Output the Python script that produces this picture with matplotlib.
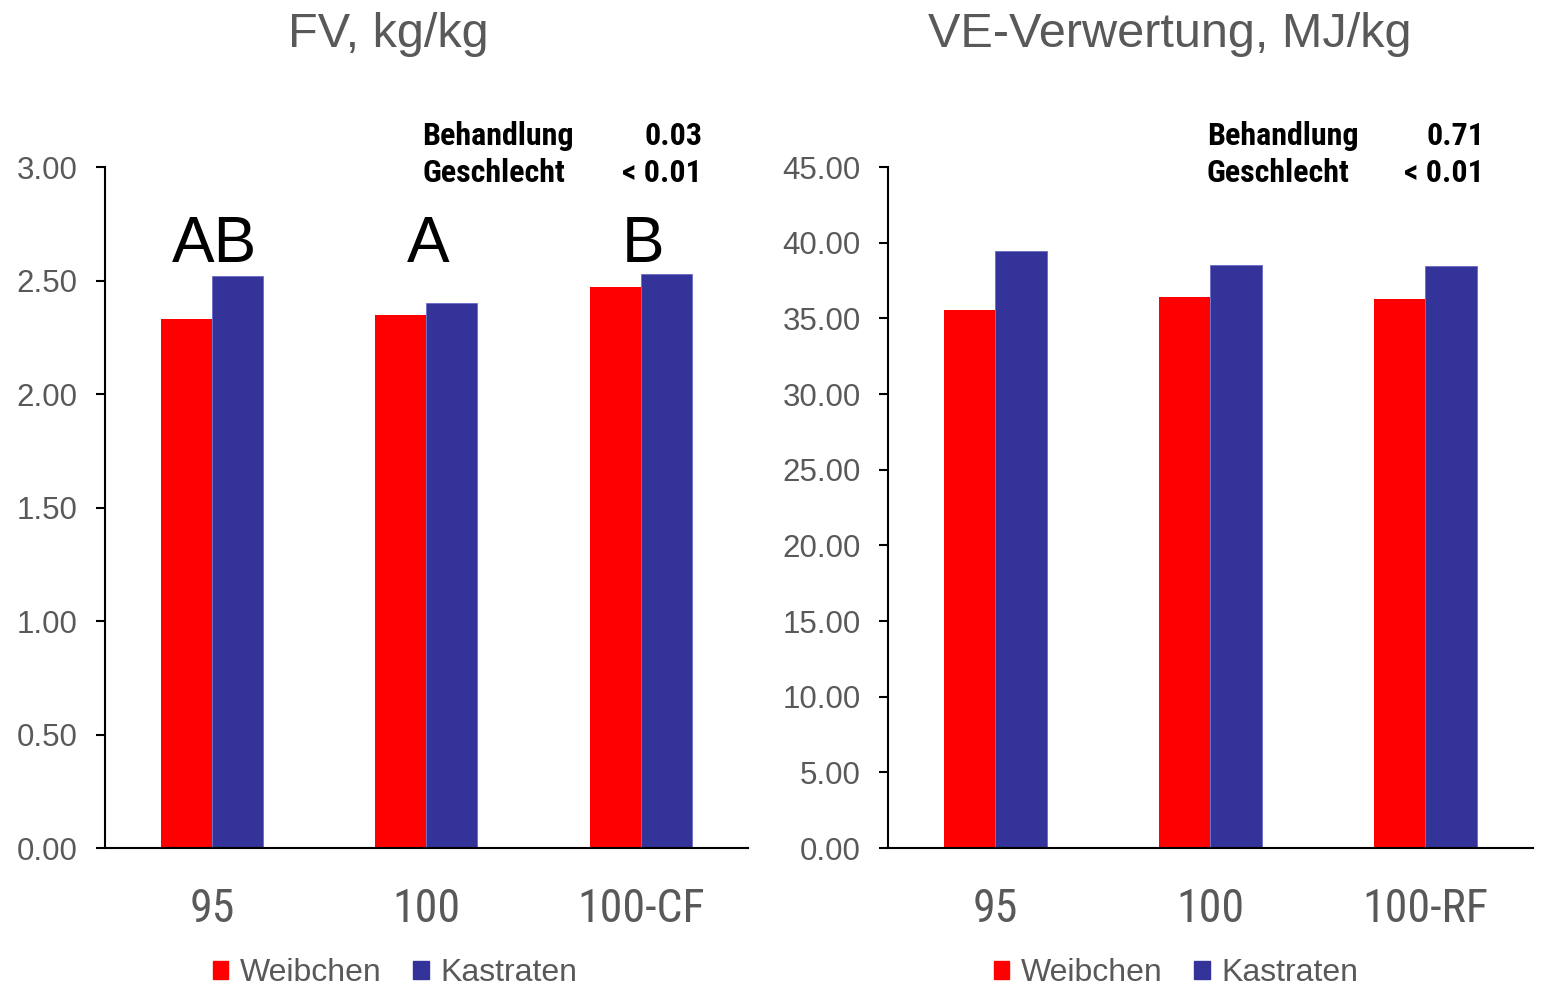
import matplotlib
matplotlib.use("Agg")
import matplotlib.pyplot as plt
from matplotlib.patches import Patch
import numpy as np

# data
groups_fv = ["95", "100", "100-CF"]
groups_ve = ["95", "100", "100-RF"]
fv_weibchen = [2.33, 2.35, 2.47]
fv_kastraten = [2.52, 2.40, 2.53]
ve_weibchen = [35.55, 36.41, 36.28]
ve_kastraten = [39.45, 38.52, 38.46]
fv_letters = ["AB", "A", "B"]
fv_p = [("Behandlung", "0.03"), ("Geschlecht", "< 0.01")]
ve_p = [("Behandlung", "0.71"), ("Geschlecht", "< 0.01")]

RED = "#FF0000"
BLUE = "#333399"
GRAY = "#595959"
NARROW = ["Roboto Condensed", "Liberation Sans", "DejaVu Sans"]
SANS = ["Liberation Sans", "DejaVu Sans"]

plt.rcParams["font.family"] = SANS

fig = plt.figure(figsize=(15.41, 9.90), dpi=100)
ax1 = fig.add_axes([0.0681, 0.1434, 0.4173, 0.6879])
ax2 = fig.add_axes([0.5762, 0.1434, 0.4186, 0.6879])

w = 0.238


def draw(ax, cats, wb, ka, ymax, step):
    x = np.arange(len(cats))
    ax.bar(x - w / 2, wb, w, color=RED, edgecolor="none")
    ax.bar(x + w / 2, ka, w, color=BLUE, edgecolor="#6a6ac8", linewidth=0.6)
    ax.set_xlim(-0.5, len(cats) - 0.5)
    ax.set_ylim(0, ymax)
    ticks = np.arange(0, ymax + step / 2, step)
    ax.set_yticks(ticks)
    ax.set_yticklabels(["%.2f" % v for v in ticks])
    ax.set_xticks(x)
    ax.set_xticklabels(cats, fontsize=33, color=GRAY, family=NARROW)
    for s in ["top", "right"]:
        ax.spines[s].set_visible(False)
    for s in ["left", "bottom"]:
        ax.spines[s].set_linewidth(1.5)
    ax.tick_params(axis="y", direction="out", length=6.5, width=1.5,
                   labelsize=22.5, labelcolor=GRAY, pad=13)
    ax.tick_params(axis="x", length=0, pad=28)


draw(ax1, groups_fv, fv_weibchen, fv_kastraten, 3.0, 0.5)
draw(ax2, groups_ve, ve_weibchen, ve_kastraten, 45.0, 5.0)

for i, t in enumerate(fv_letters):
    ax1.text(i + 0.01, 2.58, t, ha="center", va="baseline", fontsize=46, color="black")

# titles
fig.text(0.2518, 0.9525, "FV, kg/kg", ha="center", va="baseline", fontsize=35, color=GRAY)
fig.text(0.7592, 0.9525, "VE-Verwertung, MJ/kg", ha="center", va="baseline", fontsize=35, color=GRAY)

# p-values
for (xl, xr), rows in [((422, 702), fv_p), ((1207, 1484), ve_p)]:
    for k, (lab, val) in enumerate(rows):
        yb = 1 - (145 + 37 * k) / 990
        fig.text(xl / 1541, yb, lab, ha="left", va="baseline", fontsize=23,
                 fontweight="bold", family=NARROW)
        fig.text(xr / 1541, yb, val, ha="right", va="baseline", fontsize=23,
                 fontweight="bold", family=NARROW)

# legends
handles = [Patch(color=RED, label="Weibchen"), Patch(color=BLUE, label="Kastraten")]
for cx in [395, 1176]:
    fig.legend(handles=handles, loc="center", bbox_to_anchor=(cx / 1541, 0.017),
               ncol=2, frameon=False, fontsize=23, labelcolor=GRAY,
               handlelength=0.5, handleheight=0.5, handletextpad=0.35,
               columnspacing=1.0, borderpad=0)

fig.savefig("out.png", dpi=100)
